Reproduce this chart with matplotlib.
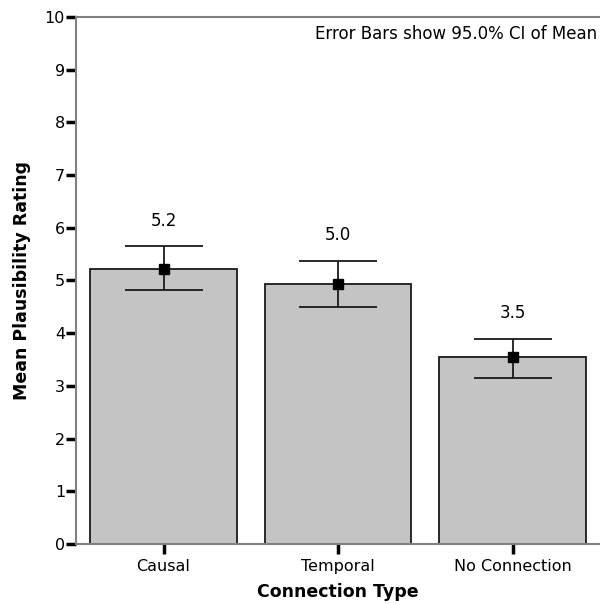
import numpy as np
import matplotlib.pyplot as plt

categories = ["Causal", "Temporal", "No Connection"]
means = [5.22, 4.94, 3.54]
ci_low = [4.82, 4.50, 3.15]
ci_high = [5.65, 5.37, 3.89]
labels = ["5.2", "5.0", "3.5"]

x = np.arange(len(categories))
means = np.array(means)
err = [means - np.array(ci_low), np.array(ci_high) - means]

fig = plt.figure(figsize=(6, 6.04), dpi=100)
ax = fig.add_axes([0.127, 0.0993, 0.873, 0.8726])

ax.bar(x, means, width=0.84, color="#c4c4c4", edgecolor="#1a1a1a", linewidth=1.3, zorder=2)
ax.errorbar(x, means, yerr=err, fmt="s", color="black", markersize=7,
            ecolor="#1a1a1a", elinewidth=1.3, capsize=28, capthick=1.3, zorder=3)

for xi, hi, lab in zip(x, ci_high, labels):
    ax.annotate(lab, (xi, hi), xytext=(0, 12), textcoords="offset points",
                ha="center", va="bottom", fontsize=12)

ax.set_xlim(-0.5, 2.5)
ax.set_ylim(0, 10)
ax.set_yticks(range(0, 11))
ax.set_xticks(x)
ax.set_xticklabels(categories, fontsize=11.5)
ax.tick_params(axis="y", labelsize=11.5, width=2.5, length=7, color="black", pad=1)
ax.tick_params(axis="x", width=2.5, length=7, color="black", pad=4)

for side in ["left", "bottom", "top"]:
    ax.spines[side].set_color("#808080")
    ax.spines[side].set_linewidth(1.5)
ax.spines["right"].set_visible(False)

ax.set_xlabel("Connection Type", fontsize=12.5, fontweight="bold", labelpad=6)
ax.set_ylabel("Mean Plausibility Rating", fontsize=12.5, fontweight="bold", labelpad=10)

ax.text(0.995, 0.985, "Error Bars show 95.0% CI of Mean", transform=ax.transAxes,
        ha="right", va="top", fontsize=12)

fig.savefig("out.png", dpi=100)
